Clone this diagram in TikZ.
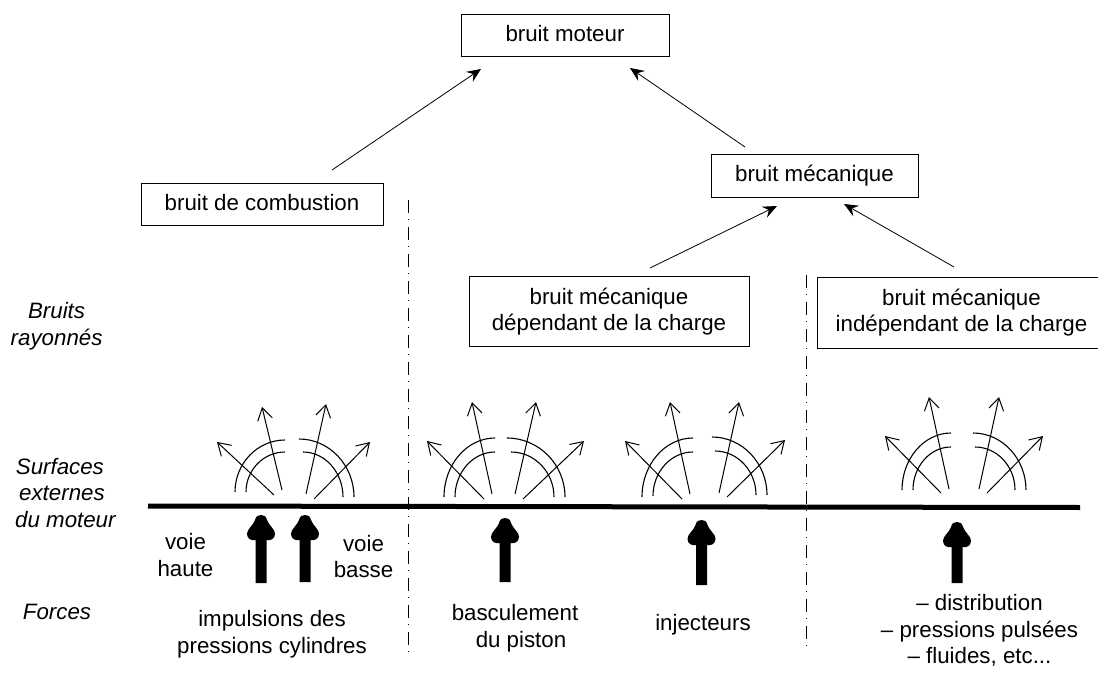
\documentclass[tikz,border=0pt]{standalone}
\usepackage{fontspec}
\setmainfont{Liberation Sans}
\usetikzlibrary{arrows.meta}
\tikzset{
  box/.style={draw,line width=0.9bp,inner sep=0pt,align=center,font=\fontsize{22.3bp}{26bp}\selectfont},
  lab/.style={inner sep=0pt,align=center,font=\fontsize{22.3bp}{26.5bp}\selectfont},
  side/.style={lab,font=\fontsize{22.3bp}{26.5bp}\selectfont\itshape},
  conn/.style={line width=0.8bp,-{Stealth[length=14bp,width=12bp,inset=5bp]}},
  rayarrow/.style={line width=1bp,-{Straight Barb[length=12bp,width=15bp,line width=1bp]}},
  rayarc/.style={line width=1.1bp},
  sep/.style={line width=0.7bp,dash pattern=on 13bp off 6bp on 1bp off 7bp},
  base/.style={line width=5bp},
}
% force arrow: tail x, top y
\newcommand{\force}[3]{%
  \fill (#1-5.5,#3) -- (#1-5.5,#2+25) .. controls (#1-9,#2+26) and (#1-14,#2+24) .. (#1-14,#2+19)
    .. controls (#1-14,#2+14) and (#1-9,#2+12) .. (#1-6,#2+5)
    .. controls (#1-5,#2+1) and (#1-3,#2) .. (#1,#2)
    .. controls (#1+3,#2) and (#1+5,#2+1) .. (#1+6,#2+5)
    .. controls (#1+9,#2+12) and (#1+14,#2+14) .. (#1+14,#2+19)
    .. controls (#1+14,#2+24) and (#1+9,#2+26) .. (#1+5.5,#2+25)
    -- (#1+5.5,#3) -- cycle;}
% quarter arc from (x0,y0) vertical up to (x1,y1) horizontal
\newcommand{\qarc}[4]{%
  \draw[rayarc] (#1,#2) .. controls (#1,{#2+0.55*(#4-#2)}) and ({#3+0.55*(#1-#3)},#4) .. (#3,#4);}
\begin{document}
\begin{tikzpicture}[x=1bp,y=-1bp]
\useasboundingbox (0,0) rectangle (1098,677);
% boxes
\node[box,minimum width=208bp,minimum height=42bp] (moteur) at (565,35) {bruit moteur\rule[-3bp]{0pt}{0pt}};
\node[box,minimum width=207bp,minimum height=43bp] (meca) at (814.5,175.5) {bruit mécanique};
\node[box,minimum width=242bp,minimum height=42bp] (comb) at (262,204) {bruit de combustion\rule[-2.5bp]{0pt}{0pt}};
\node[box,minimum width=280bp,minimum height=70bp] (dep) at (609,311.5) {bruit mécanique\\dépendant de la charge};
\node[box,minimum width=283bp,minimum height=71bp] (indep) at (959,312.5) {\hspace*{5bp}bruit mécanique\\\hspace*{5bp}indépendant de la charge};
% connectors
\coordinate (c1a) at (332,170); \coordinate (c1b) at (481,69);
\coordinate (c2a) at (745,147); \coordinate (c2b) at (630,68);
\coordinate (c3a) at (650,268); \coordinate (c3b) at (777,206);
\coordinate (c4a) at (954,267); \coordinate (c4b) at (844,204);
\draw[conn] (c1a) -- (c1b);
\draw[conn] (c2a) -- (c2b);
\draw[conn] (c3a) -- (c3b);
\draw[conn] (c4a) -- (c4b);
% separators
\coordinate (s1a) at (408,200); \coordinate (s1b) at (408,652);
\coordinate (s2a) at (806,275); \coordinate (s2b) at (806,652);
\draw[sep] (s1a) -- (s1b);
\draw[sep] (s2a) -- (s2b);
% base line
\coordinate (ba) at (148,506); \coordinate (bb) at (1080,507.5);
\draw[base] (ba) -- (bb);
% group 1
\qarc{235}{492}{285}{440}\qarc{246}{492}{285}{452}
\qarc{354}{497}{299}{439}\qarc{343}{497}{303}{452}
\draw[rayarrow] (274,495) -- (217,442);
\draw[rayarrow] (282,490) -- (262,407);
\draw[rayarrow] (306,494) -- (326,404);
\draw[rayarrow] (314,499) -- (370,442);
% group 2
\qarc{444}{497}{495}{438}\qarc{455}{497}{495}{452}
\qarc{565}{497}{507}{438}\qarc{554}{497}{511}{452}
\draw[rayarrow] (484,499) -- (427,441);
\draw[rayarrow] (492,494) -- (472,402);
\draw[rayarrow] (515,494) -- (536,402);
\draw[rayarrow] (523,499) -- (584,441);
% group 3
\qarc{642}{497}{693}{438}\qarc{653}{496}{693}{452}
\qarc{767}{495}{712}{437}\qarc{756}{495}{715}{451}
\draw[rayarrow] (682,499) -- (625,441);
\draw[rayarrow] (690,494) -- (670,402);
\draw[rayarrow] (719,493) -- (739,402);
\draw[rayarrow] (727,497) -- (785,440);
% group 4
\qarc{902}{490}{951}{433}\qarc{913}{490}{951}{447}
\qarc{1026}{490}{973}{433}\qarc{1015}{490}{975}{447}
\draw[rayarrow] (941,493) -- (885,436);
\draw[rayarrow] (949,489) -- (929,397);
\draw[rayarrow] (979,489) -- (999,397);
\draw[rayarrow] (987,493) -- (1043,436);
% force arrows
\force{261}{515}{583}
\force{305}{515}{582}
\force{505}{518}{582}
\force{701.5}{520}{585}
\force{957}{522}{583}
% labels
\node[side] (t1) at (56.6,326) {Bruits\\rayonnés};
\node[side,anchor=west,align=left] (t2) at (15,493) {\hspace*{0.7bp}Surfaces\\\hspace*{4bp}externes\\du moteur};
\node[side] (t3) at (57,612) {Forces};
\node[lab] (v1) at (185.5,555) {voie\\haute};
\node[lab] (v2) at (363.5,556.5) {voie\\basse};
\node[lab] (f1) at (272,634) {impulsions des\\pressions cylindres};
\node[lab] (f2) at (515,628) {basculement\\\hspace*{12bp}du piston};
\node[lab] (f3) at (703,625) {injecteurs};
\node[lab] (f4) at (979.5,630.5) {-- distribution\\-- pressions pulsées\\-- fluides, etc...};
\end{tikzpicture}
\end{document}
